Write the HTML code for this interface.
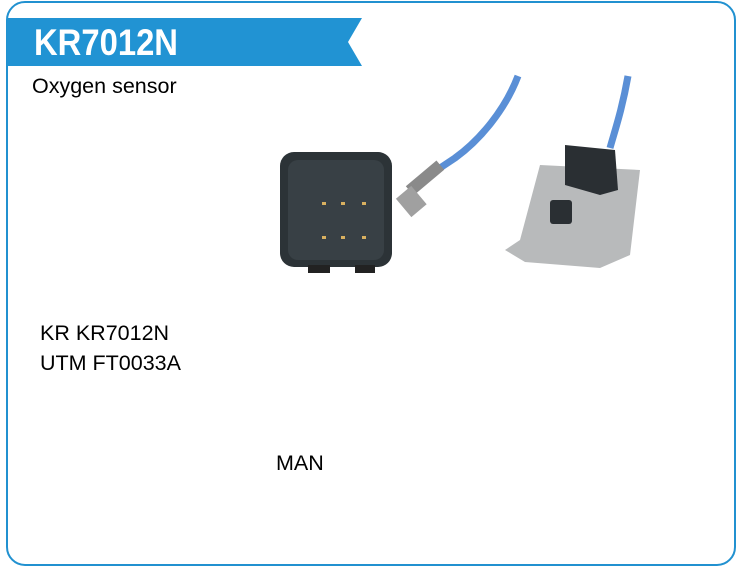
<!DOCTYPE html>
<html><head><style>
body{margin:0;width:740px;height:576px;background:#fff;position:relative;font-family:"Liberation Sans",sans-serif;overflow:hidden}
.t{position:absolute;font-size:21.5px;color:#000;white-space:nowrap}
</style></head><body>
<svg width="740" height="576" style="position:absolute;left:0;top:0">
<rect x="7" y="2" width="728" height="563" rx="18" fill="none" stroke="#2191d0" stroke-width="2"/>
<polygon points="7,18 362,18 348,42 362,66 7,66" fill="#2193d3"/>
<text x="34" y="55" font-family="Liberation Sans" font-weight="bold" font-size="37" fill="#fff" textLength="144" lengthAdjust="spacingAndGlyphs">KR7012N</text>
<path d="M518,76 C505,110 480,140 455,158 L440,168" stroke="#5a8fd6" stroke-width="7" fill="none"/>
<path d="M628,76 C622,110 615,130 610,148" stroke="#5a8fd6" stroke-width="7" fill="none"/>
<rect x="405" y="172" width="40" height="12" fill="#8a8a8a" transform="rotate(-40 425 178)"/>
<rect x="400" y="190" width="20" height="24" fill="#a0a0a0" transform="rotate(-40 410 200)"/>
<rect x="280" y="152" width="112" height="115" rx="14" fill="#2c3337"/>
<rect x="288" y="160" width="96" height="100" rx="10" fill="#384045"/>
<rect x="308" y="265" width="22" height="8" fill="#222"/>
<rect x="355" y="265" width="20" height="8" fill="#222"/>
<g fill="#d8b060"><rect x="322" y="202" width="4" height="3"/><rect x="341" y="202" width="4" height="3"/><rect x="362" y="202" width="4" height="3"/><rect x="322" y="236" width="4" height="3"/><rect x="341" y="236" width="4" height="3"/><rect x="362" y="236" width="4" height="3"/></g>
<polygon points="540,165 640,170 630,255 600,268 525,262 505,250 520,240" fill="#b8babb"/>
<polygon points="565,145 615,150 618,190 600,195 565,185" fill="#2a2f33"/>
<rect x="550" y="200" width="22" height="24" rx="3" fill="#2a2f33"/>
</svg>
<div class="t" style="left:32px;top:74px">Oxygen sensor</div>
<div class="t" style="left:40px;top:321px">KR KR7012N</div>
<div class="t" style="left:40px;top:351px">UTM FT0033A</div>
<div class="t" style="left:276px;top:451px">MAN</div>
</body></html>
